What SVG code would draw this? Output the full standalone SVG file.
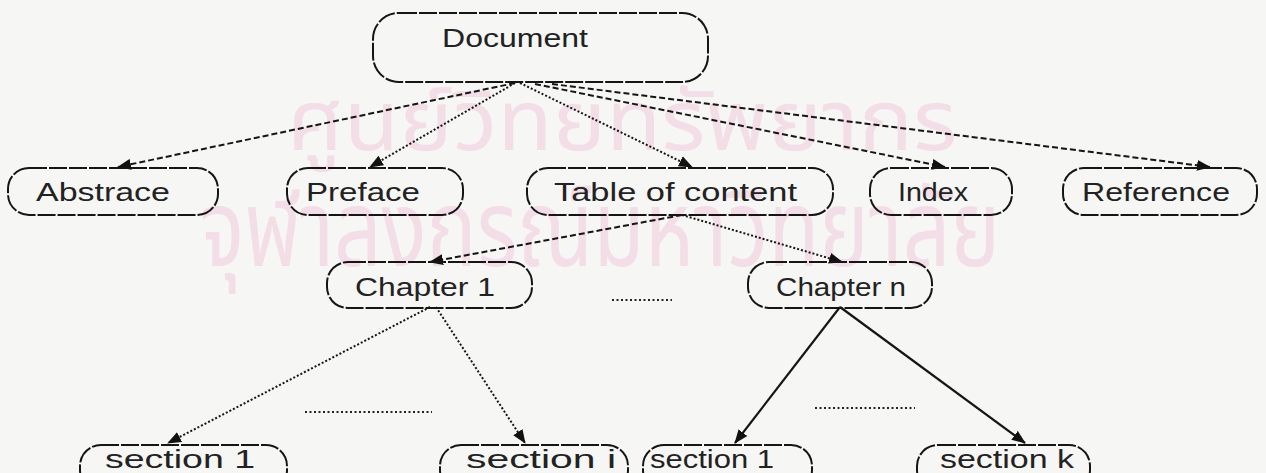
<svg xmlns="http://www.w3.org/2000/svg" width="1266" height="473" viewBox="0 0 1266 473">
  <defs>
    <marker id="arrow" viewBox="0 0 14 12" refX="13" refY="6" markerWidth="14" markerHeight="12" markerUnits="userSpaceOnUse" orient="auto">
      <path d="M0,0.5 L14,6 L0,11.5 Z" fill="#111"/>
    </marker>
    <style>
      .node rect { fill: none; stroke: #151515; stroke-width: 2; stroke-dasharray: 18 2; }
      .node text { font-family: "Liberation Sans", "DejaVu Sans", sans-serif; font-size: 25px; fill: #222; }
      .edge { fill: none; stroke: #151515; stroke-width: 2; marker-end: url(#arrow); }
      .dash { stroke-dasharray: 6 3; }
      .dot { stroke-dasharray: 2 2; }
      .solid { stroke-width: 2.2; }
      .ellipsis { stroke: #222; stroke-width: 2; stroke-dasharray: 2 2.5; }
      .mark { font-family: "Noto Sans Thai", "Noto Sans", "DejaVu Sans", sans-serif; fill: #f3dde6; }
    </style>
  </defs>

  <rect x="0" y="0" width="1266" height="473" fill="#f6f6f4"/>

  <!-- library watermark -->
  <g id="watermark">
    <text class="mark" transform="translate(622,150) scale(1,1.35)" x="0" y="0" font-size="62" text-anchor="middle" textLength="670" lengthAdjust="spacingAndGlyphs">ศูนย์วิทยทรัพยากร</text>
    <text class="mark" transform="translate(600,266) scale(1,1.45)" x="0" y="0" font-size="74" text-anchor="middle" textLength="800" lengthAdjust="spacingAndGlyphs">จุฬาลงกรณ์มหาวิทยาลัย</text>
  </g>

  <!-- connectors -->
  <g id="connectors">
    <line class="edge dash" x1="515" y1="83" x2="118" y2="167"/>
    <line class="edge dot" x1="515" y1="83" x2="370" y2="167"/>
    <line class="edge dot" x1="520" y1="83" x2="692" y2="167"/>
    <line class="edge dash" x1="535" y1="84" x2="945" y2="167"/>
    <line class="edge dash" x1="552" y1="84" x2="1210" y2="167"/>
    <line class="edge dash" x1="682" y1="215" x2="430" y2="262"/>
    <line class="edge dot" x1="682" y1="215" x2="842" y2="262"/>
    <line class="edge dot" x1="430" y1="307" x2="168" y2="443"/>
    <line class="edge dot" x1="436" y1="307" x2="525" y2="443"/>
    <line class="edge solid" x1="840" y1="307" x2="735" y2="443"/>
    <line class="edge solid" x1="840" y1="307" x2="1025" y2="443"/>
    <line class="ellipsis" x1="612" y1="300" x2="672" y2="300"/>
    <line class="ellipsis" x1="305" y1="412" x2="432" y2="412"/>
    <line class="ellipsis" x1="815" y1="408" x2="915" y2="408"/>
  </g>

  <g id="document" class="node">
    <rect x="373" y="13" width="335" height="69" rx="26"/>
    <text x="442" y="47" textLength="146" lengthAdjust="spacingAndGlyphs">Document</text>
  </g>
  <g id="abstrace" class="node">
    <rect x="8" y="168" width="210" height="47" rx="21"/>
    <text x="36" y="201" textLength="134" lengthAdjust="spacingAndGlyphs">Abstrace</text>
  </g>
  <g id="preface" class="node">
    <rect x="287" y="168" width="176" height="47" rx="21"/>
    <text x="306" y="201" textLength="114" lengthAdjust="spacingAndGlyphs">Preface</text>
  </g>
  <g id="table-of-content" class="node">
    <rect x="527" y="168" width="306" height="47" rx="21"/>
    <text x="554" y="201" textLength="243" lengthAdjust="spacingAndGlyphs">Table of content</text>
  </g>
  <g id="index" class="node">
    <rect x="870" y="168" width="142" height="47" rx="21"/>
    <text x="898" y="201" textLength="70" lengthAdjust="spacingAndGlyphs">Index</text>
  </g>
  <g id="reference" class="node">
    <rect x="1063" y="168" width="194" height="47" rx="21"/>
    <text x="1082" y="201" textLength="148" lengthAdjust="spacingAndGlyphs">Reference</text>
  </g>
  <g id="chapter-1" class="node">
    <rect x="327" y="262" width="205" height="46" rx="21"/>
    <text x="355" y="296" textLength="140" lengthAdjust="spacingAndGlyphs">Chapter 1</text>
  </g>
  <g id="chapter-n" class="node">
    <rect x="748" y="262" width="184" height="46" rx="21"/>
    <text x="776" y="296" textLength="130" lengthAdjust="spacingAndGlyphs">Chapter n</text>
  </g>
  <g id="section-1-a" class="node">
    <rect x="80" y="445" width="207" height="46" rx="21"/>
    <text x="105" y="468" textLength="150" lengthAdjust="spacingAndGlyphs">section 1</text>
  </g>
  <g id="section-i" class="node">
    <rect x="440" y="445" width="188" height="46" rx="21"/>
    <text x="466" y="468" textLength="150" lengthAdjust="spacingAndGlyphs">section i</text>
  </g>
  <g id="section-1-b" class="node">
    <rect x="643" y="445" width="169" height="46" rx="21"/>
    <text x="650" y="468" textLength="124" lengthAdjust="spacingAndGlyphs">section 1</text>
  </g>
  <g id="section-k" class="node">
    <rect x="917" y="445" width="173" height="46" rx="21"/>
    <text x="940" y="468" textLength="134" lengthAdjust="spacingAndGlyphs">section k</text>
  </g>
</svg>
